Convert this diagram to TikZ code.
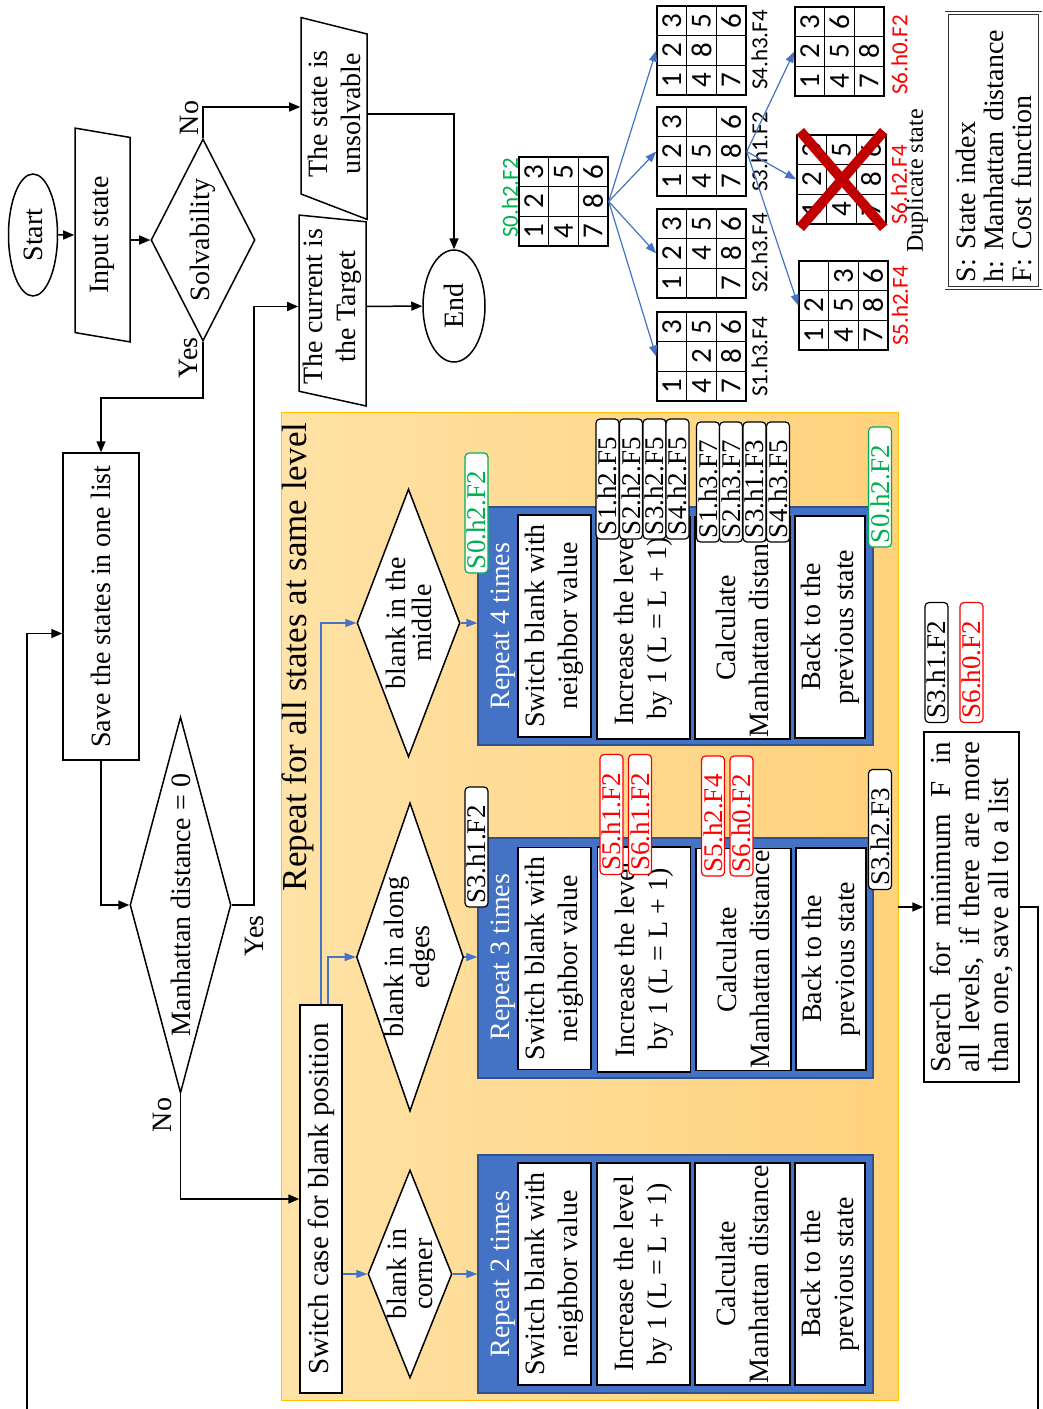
\documentclass[tikz,border=0pt]{standalone}
\usepackage{fontspec}
\setmainfont{Liberation Serif}
\newfontfamily\calibri{Carlito}
\usetikzlibrary{shapes.geometric,arrows.meta}
\frenchspacing

\definecolor{xblue}{HTML}{4472C4}
\definecolor{xblueedge}{HTML}{2F528F}
\definecolor{xgreen}{HTML}{00B050}
\definecolor{xred}{HTML}{FF0000}
\definecolor{xdarkred}{HTML}{C00000}
\definecolor{xgold}{HTML}{FFC000}
\definecolor{xlight}{HTML}{FFE2A6}
\definecolor{xorange}{HTML}{FFD27C}

\begin{document}
\begin{tikzpicture}[x=1pt,y=1pt,
    rot/.style={rotate=90,inner sep=0pt},
    txt/.style={rot,align=center,font=\fontsize{28}{33}\selectfont},
    box/.style={txt,draw,line width=1.5pt,fill=white},
    io/.style={txt,draw,line width=1.5pt,trapezium,trapezium stretches=true},
    term/.style={txt,draw,line width=1.5pt,ellipse},
    dec/.style={txt,draw,line width=1.5pt,diamond,fill=white,font=\fontsize{28}{26}\selectfont},
    rep/.style={fill=xblue,draw=xblueedge,line width=1.2pt,inner sep=0pt,minimum width=395pt,minimum height=238pt},
    swbox/.style={box,minimum width=222pt,minimum height=73pt},
    incbox/.style={box,minimum width=222pt,minimum height=93pt},
    calbox/.style={box,minimum width=222pt,minimum height=95pt},
    backbox/.style={box,minimum width=222pt,minimum height=70pt},
    lbl/.style={rot,draw,fill=white,line width=1.2pt,rounded corners=4pt,
      font=\fontsize{27}{27}\selectfont,text width=112pt,align=left,
      inner xsep=4pt,inner ysep=2.5pt,text height=18pt,text depth=0pt},
    rlbl/.style={lbl,draw=xred,text=xred},
    glbl/.style={lbl,draw=xgreen,text=xgreen},
    plbl/.style={rot,font=\calibri\fontsize{23}{23}\selectfont},
    dig/.style={rot,font=\calibri\fontsize{29}{29}\selectfont},
    pgrid/.style={draw,line width=1.5pt,minimum size=89pt,inner sep=0pt},
    gline/.style={line width=1.5pt},
    link/.style={line width=1.5pt},
    arr/.style={link,-{Triangle[length=11pt,width=9pt]}},
    barr/.style={xblue,line width=1.2pt,-{Triangle[length=11pt,width=8pt]}}]

  \fill[white] (0,0) rectangle (1043,-1409);
  \useasboundingbox (0,0) rectangle (1043,-1409);

  % 3x3 puzzle: name, left x, top y, entries row by row
  \def\puzzle#1#2#3#4{%
    \node[pgrid] (#1) at (#2+44.5,-#3-44.5) {};
    \draw[gline] (#2+29.67,-#3) -- ++(0,-89) (#2+59.33,-#3) -- ++(0,-89)
      (#2,-#3-29.67) -- ++(89,0) (#2,-#3-59.33) -- ++(89,0);
    \foreach \pv [count=\pk from 0] in {#4} {
      \pgfmathtruncatemacro{\prow}{\pk/3}
      \pgfmathtruncatemacro{\pcol}{mod(\pk,3)}
      \node[dig] (#1d\pk) at (#2+\prow*29.67+14.83,-#3-74.17+\pcol*29.67) {\pv};
    }
  }

  % yellow frame of the loop over one level
  \node[draw=xgold,line width=0.8pt,left color=xlight,right color=xorange,
    minimum width=617pt,minimum height=988pt,inner sep=0pt] (bg) at (589.5,-906) {};
  \node[txt,font=\fontsize{35}{40}\selectfont] (bgt) at (298,-657) {Repeat for all states at same level};

  % main flow
  \node[term,minimum width=122pt,minimum height=49pt] (start) at (33,-235) {Start};
  \node[io,trapezium left angle=77,trapezium right angle=103,minimum width=214pt,minimum height=55pt] (input) at (102.5,-235) {Input state};
  \node[dec,aspect=1.94,minimum width=202pt,minimum height=104pt] (solv) at (203,-240) {Solvability};
  \node[io,trapezium left angle=69,trapezium right angle=104,minimum width=202pt,minimum height=66pt] (unsolv) at (334,-114) {The state is\\unsolvable};
  \node[io,trapezium left angle=77,trapezium right angle=96,minimum width=191pt,minimum height=67pt] (target) at (332.5,-306.5) {The current is\\the Target};
  \node[term,minimum width=112pt,minimum height=62pt] (end) at (454,-306) {End};
  \node[box,minimum width=307pt,minimum height=76pt] (save) at (101,-606.5) {Save the states in one list};
  \node[dec,font=\fontsize{28}{33}\selectfont,aspect=3.72,minimum width=376pt,minimum height=101pt] (manh) at (180.5,-905) {Manhattan distance = 0};
  \node[box,font=\fontsize{29}{33}\selectfont,minimum width=388pt,minimum height=42pt] (switch) at (321,-1199) {Switch case for blank position};

  \node[txt] (no1) at (189,-118) {No};
  \node[txt] (yes1) at (188,-358) {Yes};
  \node[txt] (yes2) at (254,-936) {Yes};
  \node[txt] (no2) at (162,-1115) {No};

  % blank position cases
  \node[dec,aspect=2.6,minimum width=268pt,minimum height=103pt] (mid) at (408.5,-623) {blank in the\\middle};
  \node[dec,aspect=2.88,minimum width=306pt,minimum height=106pt] (edge) at (410,-957) {blank in along\\edges};
  \node[dec,aspect=2.48,minimum width=208pt,minimum height=84pt] (corner) at (410,-1274) {blank in\\corner};

  % repeat 4 times
  \node[rep] (rep4) at (675.5,-626) {};
  \node[txt,text=white] (rep4t) at (503,-626) {Repeat 4 times};
  \node[swbox] (sw4) at (554.5,-626) {Switch blank with\\neighbor value};
  \node[incbox] (inc4) at (643.5,-628) {Increase the level\\by 1 (L = L + 1)};
  \node[calbox] (cal4) at (742.5,-628) {Calculate\\Manhattan distance};
  \node[backbox] (back4) at (830,-627) {Back to the\\previous state};

  % repeat 3 times
  \node[rep,minimum height=240pt] (rep3) at (675.5,-958) {};
  \node[txt,text=white] (rep3t) at (503,-957) {Repeat 3 times};
  \node[swbox] (sw3) at (554.5,-958.5) {Switch blank with\\neighbor value};
  \node[incbox,minimum width=225pt] (inc3) at (644,-959.5) {Increase the level\\by 1 (L = L + 1)};
  \node[calbox] (cal3) at (743.5,-959.5) {Calculate\\Manhattan distance};
  \node[backbox] (back3) at (831,-959) {Back to the\\previous state};

  % repeat 2 times
  \node[rep] (rep2) at (675.5,-1274) {};
  \node[txt,text=white] (rep2t) at (503,-1274) {Repeat 2 times};
  \node[swbox] (sw2) at (554.5,-1274) {Switch blank with\\neighbor value};
  \node[incbox] (inc2) at (643.5,-1274) {Increase the level\\by 1 (L = L + 1)};
  \node[calbox] (cal2) at (742.5,-1274) {Calculate\\Manhattan distance};
  \node[backbox] (back2) at (830,-1274) {Back to the\\previous state};

  % state tags
  \node[glbl] (t1) at (476.5,-513) {S0.h2.F2};
  \node[glbl] (t2) at (880,-487) {S0.h2.F2};
  \node[lbl] (t3) at (607.5,-479) {S1.h2.F5};
  \node[lbl] (t4) at (631,-479) {S2.h2.F5};
  \node[lbl] (t5) at (654.5,-479) {S3.h2.F5};
  \node[lbl] (t6) at (677.5,-479) {S4.h2.F5};
  \node[lbl] (t7) at (708,-482) {S1.h3.F7};
  \node[lbl] (t8) at (731,-482) {S2.h3.F7};
  \node[lbl] (t9) at (754.5,-482) {S3.h1.F3};
  \node[lbl] (t10) at (778,-482) {S4.h3.F5};
  \node[lbl] (t11) at (476.5,-847) {S3.h1.F2};
  \node[lbl] (t12) at (880,-829.5) {S3.h2.F3};
  \node[rlbl] (t13) at (611.5,-814.5) {S5.h1.F2};
  \node[rlbl] (t14) at (640,-814.5) {S6.h1.F2};
  \node[rlbl] (t15) at (713,-816) {S5.h2.F4};
  \node[rlbl] (t16) at (741.5,-816) {S6.h0.F2};

  % search over all levels
  \node[rot,draw,line width=1.5pt,fill=white,font=\fontsize{29}{29}\selectfont,
    text width=330pt,align=justify,inner xsep=10pt,inner ysep=6pt] (search) at (971.5,-907)
    {Search for minimum F in\linebreak all levels, if there are more\linebreak than one, save all to a list};
  \node[lbl] (t17) at (936.5,-662.5) {S3.h1.F2};
  \node[rlbl] (t18) at (971.5,-662.5) {S6.h0.F2};

  % puzzle states
  \puzzle{s0}{519}{157}{1,2,3,4,{},5,7,8,6}
  \puzzle{s1}{657}{312}{1,{},3,4,2,5,7,8,6}
  \puzzle{s2}{657}{209}{1,2,3,{},4,5,7,8,6}
  \puzzle{s3}{657}{107}{1,2,3,4,5,{},7,8,6}
  \puzzle{s4}{657}{6}{1,2,3,4,8,5,7,{},6}
  \puzzle{s6}{795}{7}{1,2,3,4,5,6,7,8,{}}
  \puzzle{dup}{797}{135}{1,2,3,4,{},5,7,8,6}
  \puzzle{s5}{799}{261}{1,2,{},4,5,3,7,8,6}

  % cross over the duplicate
  \draw[xdarkred,line width=10pt] ([shift={(4pt,3pt)}]dup.north west) -- ([shift={(-3pt,-3pt)}]dup.south east);
  \draw[xdarkred,line width=10pt] ([shift={(-3pt,3pt)}]dup.north east) -- ([shift={(4pt,-3pt)}]dup.south west);

  \node[plbl,text=xgreen] (p0) at (510,-198) {S0.h2.F2};
  \node[plbl] (p1) at (759.5,-357) {S1.h3.F4};
  \node[plbl] (p2) at (759.5,-253) {S2.h3.F4};
  \node[plbl] (p3) at (759.5,-152) {S3.h1.F2};
  \node[plbl] (p4) at (759.5,-50) {S4.h3.F4};
  \node[plbl,text=xred] (p6) at (899.5,-55) {S6.h0.F2};
  \node[plbl,text=xred] (pd) at (899,-185) {S6.h2.F4};
  \node[plbl,text=xred] (p5) at (900,-306) {S5.h2.F4};
  \node[rot,font=\fontsize{24}{24}\selectfont] (dupt) at (917,-181) {Duplicate state};

  % legend
  \node[rot,draw=black!80,double,double distance=2.5pt,line width=0.8pt,
    font=\fontsize{28}{28}\selectfont,text width=263pt,align=left,inner xsep=6pt,inner ysep=9pt]
    (legend) at (993.5,-150.5) {S: State index\\h: Manhattan distance\\F: Cost function};

  % arrows of the main flow
  \draw[arr] (start) -- (input);
  \draw[arr] (input.south |- solv) -- (solv);
  \draw[arr] (solv.east) |- ([yshift=7pt]unsolv.north);
  \draw[arr] (solv.west) -- ++(0,-56) -| (save);
  \draw[arr] (unsolv) -| (end);
  \draw[arr] (target) -- (end);
  \draw[arr] (save) |- (manh);
  \draw[arr] (manh.south) -- ++(22,0) |- (target);
  \draw[arr] (manh.west) |- (switch);
  \draw[arr] (bg.east |- search) -- (search);

  % loop back to the list
  \coordinate (loopL) at (27,-1409);
  \coordinate (loopR) at (1038,-1409);
  \draw[link] (search.south) -| (loopR);
  \draw[arr] (loopL) |- ([yshift=-27pt]save.north);

  % cases
  \draw[barr] (switch.east) |- (mid);
  \draw[barr] ([xshift=7pt]switch.east) |- (edge);
  \draw[barr] (switch.south |- corner) -- (corner);
  \draw[barr] (mid.south) -- (mid.south -| rep4.west);
  \draw[barr] (edge.south) -- (edge.south -| rep3.west);
  \draw[barr] (corner.south) -- (corner.south -| rep2.west);

  % children of the states
  \draw[barr] (s0.east) -- (s1.west);
  \draw[barr] (s0.east) -- (s2.west);
  \draw[barr] (s0.east) -- (s3.west);
  \draw[barr] (s0.east) -- (s4.west);
  \draw[barr] (s3.east) -- (s6.west);
  \draw[barr] (s3.east) -- (dup.west);
  \draw[barr] (s3.east) -- (s5.west);
\end{tikzpicture}
\end{document}
